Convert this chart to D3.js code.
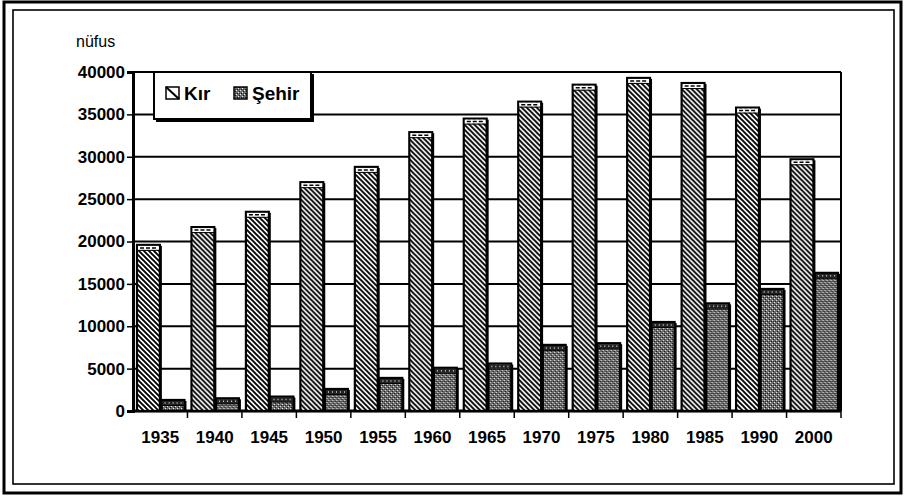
<!DOCTYPE html>
<html>
<head>
<meta charset="utf-8">
<script src="https://cdn.jsdelivr.net/npm/d3@7"></script>
<style>
  body { margin: 0; background: #fff; }
  svg { display: block; font-family: 'Liberation Sans', Arial, sans-serif; }
</style>
</head>
<body>
<div id="chart"></div>
<script>
const years = ['1935', '1940', '1945', '1950', '1955', '1960', '1965', '1970', '1975', '1980', '1985', '1990', '2000']
const kir = [19600, 21700, 23500, 27000, 28800, 32900, 34500, 36500, 38500, 39300, 38700, 35800, 29700]
const sehir = [1300, 1500, 1700, 2600, 3900, 5100, 5600, 7800, 8000, 10500, 12700, 14400, 16300]
const yTicks = [0, 5000, 10000, 15000, 20000, 25000, 30000, 35000, 40000]
const seriesNames = ['Kır', 'Şehir']

const width = 904
const height = 497
const plotLeft = 133
const plotRight = 841
const plotTop = 72
const plotBottom = 411

const svg = d3.select('#chart')
  .append('svg')
  .attr('width', width)
  .attr('height', height)

const defs = svg.append('defs')

// diagonal hatch for Kır
const hatch = defs.append('pattern')
  .attr('id', 'hatch')
  .attr('patternUnits', 'userSpaceOnUse')
  .attr('width', 5)
  .attr('height', 5)
hatch.append('rect').attr('width', 5).attr('height', 5).attr('fill', '#fff')
hatch.append('path')
  .attr('d', 'M-1,-1 L6,6 M-1,4 L1,6 M4,-1 L6,1')
  .attr('stroke', '#000')
  .attr('stroke-width', 1.9)

// stipple for Şehir
const dots = defs.append('pattern')
  .attr('id', 'dots')
  .attr('patternUnits', 'userSpaceOnUse')
  .attr('width', 4)
  .attr('height', 4)
dots.append('rect').attr('width', 4).attr('height', 4).attr('fill', '#6e6e6e')
dots.append('rect').attr('x', 0).attr('y', 0).attr('width', 1).attr('height', 1).attr('fill', '#e8e8e8')
dots.append('rect').attr('x', 2).attr('y', 2).attr('width', 1).attr('height', 1).attr('fill', '#e8e8e8')
dots.append('rect').attr('x', 1).attr('y', 3).attr('width', 1).attr('height', 1).attr('fill', '#111')
dots.append('rect').attr('x', 3).attr('y', 1).attr('width', 1).attr('height', 1).attr('fill', '#111')
dots.append('rect').attr('x', 1).attr('y', 1).attr('width', 1).attr('height', 1).attr('fill', '#333')

const fills = ['url(#hatch)', 'url(#dots)']

// page frame
svg.append('rect')
  .attr('x', 4).attr('y', 2).attr('width', 897).attr('height', 491)
  .attr('fill', 'none').attr('stroke', '#000').attr('stroke-width', 3)
svg.append('rect')
  .attr('x', 13).attr('y', 10).attr('width', 881).attr('height', 474)
  .attr('fill', 'none').attr('stroke', '#000').attr('stroke-width', 1.6)

const x = d3.scaleBand().domain(years).range([plotLeft, plotRight])
const inner = d3.scaleBand().domain([0, 1]).range([4, x.bandwidth() - 3]).paddingInner(0.07)
const y = d3.scaleLinear().domain([0, 40000]).range([plotBottom, plotTop])

// gridlines
svg.append('g')
  .selectAll('line')
  .data(yTicks.slice(1))
  .join('line')
  .attr('x1', plotLeft).attr('x2', plotRight)
  .attr('y1', (d) => y(d)).attr('y2', (d) => y(d))
  .attr('stroke', '#000')
  .attr('stroke-width', 2)

svg.append('line')
  .attr('x1', plotRight).attr('x2', plotRight)
  .attr('y1', plotTop).attr('y2', plotBottom)
  .attr('stroke', '#000').attr('stroke-width', 2)

// y axis
const yAxis = svg.append('g')
  .attr('transform', `translate(${plotLeft},0)`)
  .call(d3.axisLeft(y).tickValues(yTicks).tickFormat(d3.format('d')).tickSize(6).tickPadding(2))
yAxis.select('.domain').attr('stroke-width', 3)
yAxis.selectAll('.tick line').attr('stroke-width', 1.5)
yAxis.selectAll('text')
  .attr('font-size', 17)
  .attr('font-weight', 'bold')
  .attr('font-family', "'Liberation Sans', Arial, sans-serif")
  .attr('fill', '#000')

// x axis ticks at band boundaries
const xAxis = svg.append('g').attr('transform', `translate(0,${plotBottom})`)
xAxis.append('line')
  .attr('x1', plotLeft).attr('x2', plotRight)
  .attr('stroke', '#000').attr('stroke-width', 3)
xAxis.selectAll('.bt')
  .data(years)
  .join('line')
  .attr('class', 'bt')
  .attr('x1', (d) => x(d) + x.bandwidth()).attr('x2', (d) => x(d) + x.bandwidth())
  .attr('y1', 0).attr('y2', 7)
  .attr('stroke', '#000').attr('stroke-width', 1.5)
xAxis.selectAll('text')
  .data(years)
  .join('text')
  .attr('x', (d) => x(d) + x.bandwidth() / 2)
  .attr('y', 32)
  .attr('text-anchor', 'middle')
  .attr('font-size', 17)
  .attr('font-weight', 'bold')
  .text((d) => d)

// bars
const rows = years.map((yr, i) => ({ year: yr, values: [kir[i], sehir[i]] }))
const group = svg.append('g')
  .selectAll('g')
  .data(rows)
  .join('g')
  .attr('transform', (d) => `translate(${x(d.year)},0)`)

const bar = group.selectAll('g')
  .data((d) => d.values.map((v, k) => ({ k, v })))
  .join('g')

bar.append('rect')
  .attr('x', (d) => inner(d.k) + 2)
  .attr('y', (d) => y(d.v) + 1)
  .attr('width', inner.bandwidth())
  .attr('height', (d) => plotBottom - y(d.v) - 1)
  .attr('fill', '#000')

bar.append('rect')
  .attr('x', (d) => inner(d.k))
  .attr('y', (d) => y(d.v))
  .attr('width', inner.bandwidth())
  .attr('height', (d) => plotBottom - y(d.v))
  .attr('fill', (d) => fills[d.k])
  .attr('stroke', '#000')
  .attr('stroke-width', 2.2)

// top face strip
bar.append('rect')
  .attr('x', (d) => inner(d.k) + 1)
  .attr('y', (d) => y(d.v) + 1)
  .attr('width', inner.bandwidth() - 2)
  .attr('height', 4)
  .attr('fill', (d) => d.k === 0 ? '#fff' : '#222')
bar.append('line')
  .attr('x1', (d) => inner(d.k) + 3)
  .attr('x2', (d) => inner(d.k) + inner.bandwidth() - 2)
  .attr('y1', (d) => y(d.v) + 3)
  .attr('y2', (d) => y(d.v) + 3)
  .attr('stroke', (d) => d.k === 0 ? '#000' : '#ccc')
  .attr('stroke-width', 1.5)
  .attr('stroke-dasharray', (d) => d.k === 0 ? '4,2' : '1,3')
bar.append('line')
  .attr('x1', (d) => inner(d.k))
  .attr('x2', (d) => inner(d.k) + inner.bandwidth())
  .attr('y1', (d) => y(d.v) + 5.5)
  .attr('y2', (d) => y(d.v) + 5.5)
  .attr('stroke', '#000')
  .attr('stroke-width', 1)

// y title
svg.append('text')
  .attr('x', 76)
  .attr('y', 47)
  .attr('font-size', 16)
  .text('nüfus')

// legend
const legend = svg.append('g').attr('transform', 'translate(154,72)')
legend.append('rect')
  .attr('x', 2).attr('y', 2).attr('width', 158).attr('height', 48)
  .attr('fill', '#000')
legend.append('rect')
  .attr('width', 157).attr('height', 47)
  .attr('fill', '#fff').attr('stroke', '#000').attr('stroke-width', 2)

const item = legend.selectAll('.item')
  .data(seriesNames)
  .join('g')
  .attr('class', 'item')
  .attr('transform', (d, i) => `translate(${i === 0 ? 12 : 80},0)`)
item.append('rect')
  .attr('y', 15).attr('width', 13).attr('height', 12)
  .attr('fill', (d, i) => i === 0 ? '#fff' : fills[1])
  .attr('stroke', '#000').attr('stroke-width', 1.5)
item.filter((d, i) => i === 0).append('line')
  .attr('x1', 0).attr('y1', 15).attr('x2', 13).attr('y2', 27)
  .attr('stroke', '#000').attr('stroke-width', 2)
item.append('text')
  .attr('x', 18)
  .attr('y', 28)
  .attr('font-size', 19)
  .attr('font-weight', 'bold')
  .text((d) => d)
</script>
</body>
</html>
